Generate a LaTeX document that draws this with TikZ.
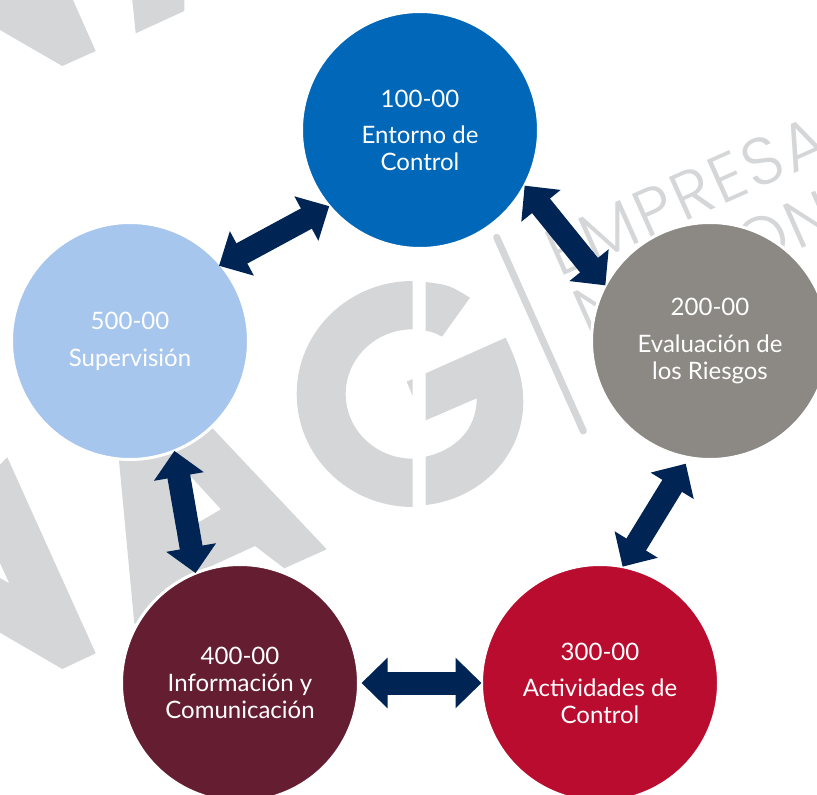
\documentclass[tikz,border=0pt]{standalone}
\usepackage{fontspec}
\setmainfont{Lato}
\newfontfamily\thinfont[LetterSpace=4]{Poppins Light}
\usetikzlibrary{arrows.meta}
\definecolor{markgray}{HTML}{D5D6D8}
\definecolor{linkblue}{HTML}{002454}
\definecolor{phaseA}{HTML}{0067B9}
\definecolor{phaseB}{HTML}{8C8984}
\definecolor{phaseC}{HTML}{BA0C2F}
\definecolor{phaseD}{HTML}{651D32}
\definecolor{phaseE}{HTML}{A7C6ED}
\tikzset{
	phase/.style={circle,minimum size=237pt,inner sep=0pt,outer sep=0pt,draw=white,line width=3pt,text=white,align=center,font=\fontsize{24}{27}\selectfont},
	markfill/.style={fill=markgray,draw=none},
	stamp/.style={text=markgray,inner sep=0pt,anchor=base west,font=\thinfont\fontsize{67}{67}\selectfont,rotate=24},
	link/.style={{Triangle[length=26pt,width=49pt]}-{Triangle[length=26pt,width=49pt]},line width=23pt,draw=linkblue}
}
\begin{document}
\begin{tikzpicture}[x=1pt,y=-1pt]
	\clip (0,0) rectangle (817,795);
	% watermark letters
	\fill[markfill] (0,0)--(73,0)--(95.7,51)--(62.3,66)--(0,30)--cycle;
	\fill[markfill] (132.3,0)--(184.3,0)--(184.3,11)--(135.7,33.3)--cycle;
	\fill[markfill] (0,464.7)--(7.3,457.3)--(95.7,653.3)--(62.3,669)--(0,632.7)--(0,578)--(9.3,583.3)--(0,563)--cycle;
	\fill[markfill,even odd rule] (118,450)--(134.3,623.3)--(200,640)--(196,573)--(255,546)--(284.3,568.3)--(326.7,549.3)--(200,415)--cycle
		(172,456)--(221,509.3)--(176.7,535)--cycle;
	% the G
	\fill[markfill] (412.7,281) arc[start angle=-90,end angle=-270,x radius=116,y radius=113]
		--(412.7,458.7) arc[start angle=90,end angle=270,x radius=67,y radius=64.7]--cycle;
	\fill[markfill] (425.7,282) .. controls (449,285) .. (470,297.7)--(442,336.7) .. controls (434,332.5) .. (425.7,330.7)--cycle;
	\fill[markfill] (425.7,373.3)--(505.7,337.7) .. controls (516,360) and (523.3,378) .. (523.3,401.7)
		.. controls (523.3,456) and (480,499) .. (425.7,505)--(425.7,456.7)
		.. controls (455,450) and (476.7,430) .. (476.7,398.3)--(425.7,420.3)--cycle;
	\fill[markfill] (406.7,381.7)--(412.7,379)--(412.7,396)--cycle;
	\draw[markgray,line width=7pt,line cap=round] (496.7,237.3)--(583.3,431);
	% watermark words
	\node[stamp] (word) at (559,278) {EMPRESA};
	\node[stamp] (wordN) at (587,338) {N};
	\node[stamp] (wordON) at (747,273) {ON};
	% phases
	\node[phase,fill=phaseA] (entorno) at (420,130) {100-00\\[9pt]Entorno de\\Control};
	\node[phase,fill=phaseB] (riesgos) at (710,341) {200-00\\[10pt]Evaluación de\\los Riesgos};
	\node[phase,fill=phaseC] (actividades) at (600,683) {300-00\\[9pt]Actividades de\\Control};
	\node[phase,fill=phaseD] (informacion) at (240,683) {400-00\\Información y\\Comunicación};
	\node[phase,fill=phaseE] (supervision) at (130,341) {500-00\\[10pt]Supervisión};
	% arrows between phases
	\draw[link] (entorno.-28)--(riesgos.152);
	\draw[link,shorten <=7pt] (riesgos.-100)--(actividades.79);
	\draw[link,shorten >=3pt] (actividades.180)--(informacion.0);
	\draw[link] (informacion.112)--(supervision.-68);
	\draw[link,shorten <=-2pt] (supervision.40)--(entorno.220);
\end{tikzpicture}
\end{document}
